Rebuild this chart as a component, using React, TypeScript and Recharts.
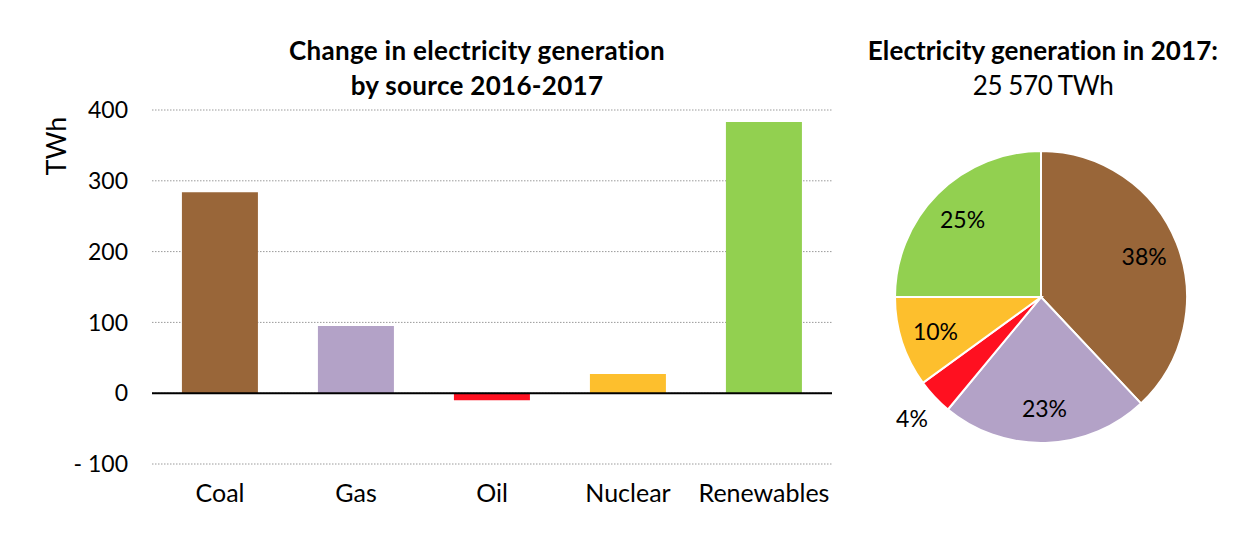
import React from "react";
import {
  BarChart,
  Bar,
  Cell,
  XAxis,
  YAxis,
  CartesianGrid,
  ReferenceLine,
  PieChart,
  Pie,
} from "recharts";

const sources = ["Coal", "Gas", "Oil", "Nuclear", "Renewables"];
const changeTWh = [284, 95, -10, 27, 383];
const sharePct = [38, 23, 4, 10, 25];
const colors = ["#996639", "#B3A2C7", "#FF1020", "#FDBF2D", "#92D050"];
const yTicks = [-100, 0, 100, 200, 300, 400];

const FONT = "Lato, 'Open Sans', sans-serif";

const barData = sources.map((s, i) => ({ source: s, value: changeTWh[i] }));
const pieData = sources.map((s, i) => ({ source: s, value: sharePct[i] }));

const RAD = Math.PI / 180;

function PieLabel(props: any) {
  const { cx, cy, midAngle, outerRadius, value } = props;
  const small = value < 5;
  const r = small ? outerRadius + 31 : outerRadius * 0.76;
  const x = cx + r * Math.cos(-midAngle * RAD);
  const y = cy + r * Math.sin(-midAngle * RAD);
  return (
    <text
      x={x}
      y={y}
      textAnchor="middle"
      dominantBaseline="central"
      fontSize={23}
      fontFamily={FONT}
      fill="#000"
    >
      {value}%
    </text>
  );
}

export default function App() {
  return (
    <div
      style={{
        position: "absolute",
        left: 0,
        top: 0,
        width: 1260,
        height: 534,
        background: "#fff",
        fontFamily: FONT,
        color: "#000",
      }}
    >
      <div
        style={{
          position: "absolute",
          left: 227,
          top: 33,
          width: 500,
          textAlign: "center",
          fontWeight: 700,
          fontSize: 26,
          lineHeight: "35px",
          letterSpacing: 0.3,
        }}
      >
        Change in electricity generation
        <br />
        by source 2016-2017
      </div>
      <div
        style={{
          position: "absolute",
          left: 26,
          top: 131,
          width: 60,
          textAlign: "center",
          fontSize: 27,
          lineHeight: "30px",
          transform: "rotate(-90deg)",
        }}
      >
        TWh
      </div>
      <div style={{ position: "absolute", left: 0, top: 0 }}>
        <BarChart
          width={860}
          height={534}
          data={barData}
          margin={{ top: 110, right: 28, bottom: 30, left: 92 }}
          barCategoryGap="22%"
        >
          <CartesianGrid
            horizontal
            vertical={false}
            stroke="#9a9a9a"
            strokeDasharray="1.5 1.5"
          />
          <XAxis
            dataKey="source"
            axisLine={false}
            tickLine={false}
            height={40}
            tickMargin={14}
            interval={0}
            tick={{ fontSize: 25, fill: "#000", fontFamily: FONT }}
          />
          <YAxis
            domain={[-100, 400]}
            ticks={yTicks}
            width={60}
            axisLine={false}
            tickLine={false}
            tickMargin={18}
            tick={{ fontSize: 23, fill: "#000", fontFamily: FONT }}
            tickFormatter={(v: number) =>
              v < 0 ? `- ${Math.abs(v)}` : String(v)
            }
          />
          <Bar dataKey="value" isAnimationActive={false}>
            {barData.map((d, i) => (
              <Cell key={d.source} fill={colors[i]} />
            ))}
          </Bar>
          <ReferenceLine y={0} stroke="#000" strokeWidth={2} />
        </BarChart>
      </div>
      <div
        style={{
          position: "absolute",
          left: 793,
          top: 33,
          width: 500,
          textAlign: "center",
          fontSize: 26,
          lineHeight: "35px",
        }}
      >
        <span style={{ fontWeight: 700, letterSpacing: 0.1 }}>
          Electricity generation in 2017:
        </span>
        <br />
        <span style={{ letterSpacing: -0.4 }}>25 570 TWh</span>
      </div>
      <div style={{ position: "absolute", left: 860, top: 0 }}>
        <PieChart
          width={400}
          height={534}
          margin={{ top: 0, right: 0, bottom: 0, left: 0 }}
        >
          <Pie
            data={pieData}
            dataKey="value"
            nameKey="source"
            cx={181}
            cy={297}
            outerRadius={146}
            startAngle={90}
            endAngle={-270}
            stroke="#fff"
            strokeWidth={2}
            label={PieLabel}
            labelLine={false}
            isAnimationActive={false}
          >
            {pieData.map((d, i) => (
              <Cell key={d.source} fill={colors[i]} />
            ))}
          </Pie>
        </PieChart>
      </div>
    </div>
  );
}
